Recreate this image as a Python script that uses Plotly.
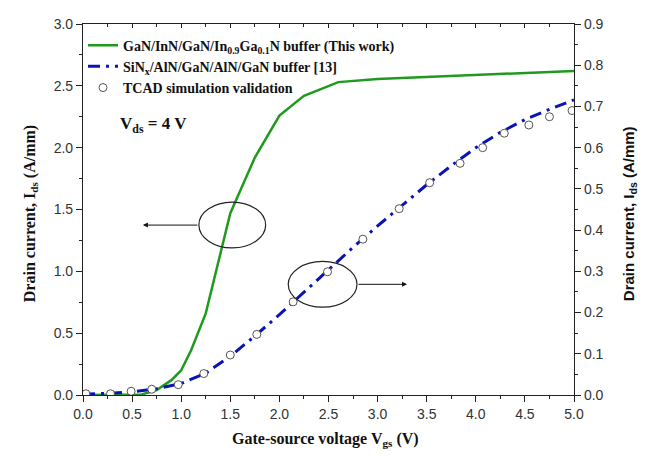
import plotly.graph_objects as go

# Green curve (left axis): GaN/InN/GaN/In0.9Ga0.1N buffer (This work)
vgs_green = [0.0, 0.25, 0.5, 0.6, 0.75, 0.9, 1.0, 1.1, 1.25, 1.5, 1.75, 2.0, 2.25, 2.5, 2.6, 3.0, 3.5, 4.0, 4.5, 5.0]
ids_green = [0.0, 0.0, 0.0, 0.005, 0.04, 0.12, 0.2, 0.36, 0.66, 1.47, 1.92, 2.26, 2.42, 2.50, 2.53, 2.555, 2.57, 2.585, 2.60, 2.62]

# Blue dash-dot curve (right axis): SiNx/AlN/GaN/AlN/GaN buffer [13]
vgs_blue = [0.0, 0.25, 0.5, 0.75, 1.0, 1.25, 1.5, 1.75, 2.0, 2.25, 2.5, 2.75, 3.0, 3.25, 3.5, 3.75, 4.0, 4.25, 4.5, 4.75, 5.0]
ids_blue = [0.002, 0.004, 0.008, 0.015, 0.028, 0.053, 0.094, 0.143, 0.195, 0.25, 0.304, 0.358, 0.41, 0.46, 0.51, 0.556, 0.6, 0.637, 0.668, 0.693, 0.716]

# TCAD simulation validation (right axis)
vgs_tcad = [0.03, 0.28, 0.49, 0.70, 0.97, 1.23, 1.50, 1.77, 2.14, 2.49, 2.85, 3.22, 3.53, 3.84, 4.07, 4.29, 4.54, 4.75, 4.98]
ids_tcad = [0.003, 0.003, 0.009, 0.014, 0.025, 0.052, 0.097, 0.147, 0.226, 0.299, 0.378, 0.452, 0.515, 0.562, 0.600, 0.635, 0.655, 0.675, 0.690]

x_ticks = [0.0, 0.5, 1.0, 1.5, 2.0, 2.5, 3.0, 3.5, 4.0, 4.5, 5.0]

SERIF = "Liberation Serif"
SANS = "Liberation Sans"

fig = go.Figure()
fig.add_trace(go.Scatter(
    x=vgs_green, y=ids_green, mode="lines",
    line=dict(color="#1f9a1f", width=2.5),
    name="GaN/InN/GaN/In<sub>0.9</sub>Ga<sub>0.1</sub>N buffer (This work)",
    yaxis="y"))
fig.add_trace(go.Scatter(
    x=vgs_blue, y=ids_blue, mode="lines",
    line=dict(color="#0a14b4", width=3, dash="12px,6px,3px,6px"),
    name="SiN<sub>x</sub>/AlN/GaN/AlN/GaN buffer [13]",
    yaxis="y2"))
fig.add_trace(go.Scatter(
    x=vgs_tcad, y=ids_tcad, mode="markers",
    marker=dict(symbol="circle", size=8, color="white",
                line=dict(color="#555555", width=1)),
    name="TCAD simulation validation",
    yaxis="y2"))

axis_common = dict(
    showline=True, linecolor="#222", linewidth=1.2,
    ticks="outside", ticklen=6, tickwidth=1, tickcolor="#222",
    showgrid=False, zeroline=False,
    tickfont=dict(family=SANS, size=14, color="#333"),
)

fig.update_layout(
    width=651, height=461,
    margin=dict(l=83, r=77, t=24, b=66),
    paper_bgcolor="white", plot_bgcolor="white",
    showlegend=True,
    legend=dict(x=0.0, y=0.985, xanchor="left", yanchor="top",
                bgcolor="rgba(0,0,0,0)",
                font=dict(family=SERIF, size=14, color="#111", weight="bold"),
                tracegroupgap=0),
    xaxis=dict(range=[0, 5], tickvals=x_ticks, ticktext=[f"{v:.1f}" for v in x_ticks],
               minor=dict(dtick=0.25, ticklen=3, ticks="outside", tickcolor="#222"),
               **axis_common),
    xaxis2=dict(range=[0, 5], overlaying="x", side="top", showline=True, linecolor="#222",
                linewidth=1.2, ticks="inside", ticklen=4, tickcolor="#222", dtick=0.5,
                showticklabels=False, showgrid=False, zeroline=False,
                minor=dict(dtick=0.25, ticklen=3, ticks="inside", tickcolor="#222")),
    yaxis=dict(range=[0, 3.0], dtick=0.5, tickformat=".1f",
               minor=dict(dtick=0.25, ticklen=3, ticks="outside", tickcolor="#222"),
               **axis_common),
    yaxis2=dict(range=[0, 0.9], dtick=0.1, tickformat=".1f", overlaying="y", side="right",
                minor=dict(dtick=0.05, ticklen=3, ticks="outside", tickcolor="#222"),
                **axis_common),
)

# empty trace so that the top axis is drawn
fig.add_trace(go.Scatter(x=[0, 5], y=[None, None], xaxis="x2", yaxis="y",
                         showlegend=False, hoverinfo="skip"))

annotations = [
    dict(text="<b>Drain current, I<sub>ds</sub> (A/mm)</b>", xref="paper", yref="paper",
         x=-0.108, y=0.49, textangle=-90, showarrow=False, xanchor="center", yanchor="middle",
         font=dict(family=SERIF, size=16, color="#111")),
    dict(text="<b>Drain current, I<sub>ds</sub> (A/mm)</b>", xref="paper", yref="paper",
         x=1.112, y=0.49, textangle=-90, showarrow=False, xanchor="center", yanchor="middle",
         font=dict(family=SANS, size=15, color="#111")),
    dict(text="<b>Gate-source voltage V<sub>gs</sub> (V)</b>", xref="paper", yref="paper",
         x=0.493, y=-0.12, showarrow=False, xanchor="center", yanchor="middle",
         font=dict(family=SERIF, size=16, color="#111")),
    dict(text="<b>V<sub>ds</sub> = 4 V</b>", xref="x", yref="y",
         x=0.36, y=2.18, showarrow=False, xanchor="left", yanchor="middle",
         font=dict(family=SERIF, size=17, color="#111")),
    dict(x=0.61, y=1.374, ax=1.18, ay=1.374, xref="x", yref="y", axref="x", ayref="y",
         showarrow=True, arrowhead=2, arrowsize=1, arrowwidth=1, arrowcolor="#111", text=""),
    dict(x=3.30, y=0.895, ax=2.79, ay=0.895, xref="x", yref="y", axref="x", ayref="y",
         showarrow=True, arrowhead=2, arrowsize=1, arrowwidth=1, arrowcolor="#111", text=""),
]
fig.update_layout(annotations=annotations)

fig.add_shape(type="circle", xref="x", yref="y", x0=1.18, x1=1.86, y0=1.19, y1=1.56,
              line=dict(color="#222", width=1.2))
fig.add_shape(type="circle", xref="x", yref="y", x0=2.09, x1=2.79, y0=0.71, y1=1.08,
              line=dict(color="#222", width=1.2))

fig.write_html("out.html", config={"displayModeBar": False},
               post_script="document.body.style.margin='0';document.body.style.overflow='hidden';")
